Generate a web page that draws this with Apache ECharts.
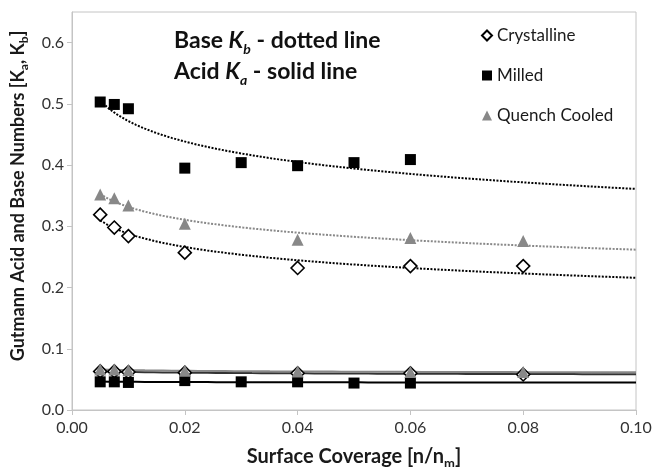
<!DOCTYPE html>
<html>
<head>
<meta charset="utf-8">
<script src="https://cdn.jsdelivr.net/npm/echarts@6/dist/echarts.min.js"></script>
<style>
  html, body { margin: 0; padding: 0; background: #fff; }
  #chart { width: 654px; height: 467px; }
</style>
</head>
<body>
<div id="chart"></div>
<script>
// surface coverage values (n/nm)
const xMilled = [0.005, 0.0075, 0.01, 0.02, 0.03, 0.04, 0.05, 0.06];
const xOther = [0.005, 0.0075, 0.01, 0.02, 0.04, 0.06, 0.08];

// base numbers Kb
const baseCrystalline = [0.319, 0.298, 0.284, 0.257, 0.232, 0.235, 0.235];
const baseMilled = [0.503, 0.499, 0.492, 0.395, 0.404, 0.399, 0.404, 0.409];
const baseQuench = [0.352, 0.346, 0.334, 0.304, 0.278, 0.281, 0.276];

// acid numbers Ka
const acidCrystalline = [0.063, 0.063, 0.062, 0.061, 0.060, 0.060, 0.058];
const acidMilled = [0.046, 0.046, 0.045, 0.048, 0.046, 0.046, 0.044, 0.044];
const acidQuench = [0.066, 0.066, 0.065, 0.064, 0.063, 0.062, 0.062];

const legendNames = ['Crystalline', 'Milled', 'Quench Cooled'];

const BLACK = '#000000';
const GREY = '#888888';
const FONT = 'Lato';

// least squares logarithmic trendline, y = a + b ln(x)
function logFit(xs, ys) {
  const lx = xs.map((x) => Math.log(x));
  const n = xs.length;
  const mx = lx.reduce((s, v) => s + v, 0) / n;
  const my = ys.reduce((s, v) => s + v, 0) / n;
  let sxy = 0;
  let sxx = 0;
  for (let i = 0; i < n; i++) {
    sxy += (lx[i] - mx) * (ys[i] - my);
    sxx += (lx[i] - mx) * (lx[i] - mx);
  }
  const b = sxy / sxx;
  const a = my - b * mx;
  const pts = [];
  const x0 = xs[0];
  const steps = 60;
  for (let i = 0; i <= steps; i++) {
    const x = x0 + ((0.1 - x0) * i) / steps;
    pts.push([x, a + b * Math.log(x)]);
  }
  return pts;
}

function pairs(xs, ys) {
  return xs.map((x, i) => [x, ys[i]]);
}

function scatter(name, xs, ys, symbol, size, style) {
  return {
    name,
    type: 'scatter',
    symbol,
    symbolSize: size,
    data: pairs(xs, ys),
    itemStyle: { opacity: 1, ...style },
    z: 5,
  };
}

function trend(name, xs, ys, color, dotted) {
  return {
    name,
    type: 'line',
    showSymbol: false,
    symbol: 'none',
    silent: true,
    data: logFit(xs, ys),
    lineStyle: {
      color,
      width: 2,
      type: dotted ? [2, 1.5] : 'solid',
    },
    z: 3,
  };
}

const diamondStyle = { color: '#fff', borderColor: BLACK, borderWidth: 1.6 };
const squareStyle = { color: BLACK };
const triStyle = { color: GREY };

const subRich = (size, key) => ({
  b: { fontFamily: FONT, fontSize: size, fontWeight: 'bold', [key]: '#1a1a1a', lineHeight: size + 6 },
  s: { fontFamily: FONT, fontSize: Math.round(size * 0.65), fontWeight: 'bold', [key]: '#1a1a1a', verticalAlign: 'bottom', lineHeight: size - 2 },
});

const chart = echarts.init(document.getElementById('chart'));

chart.setOption({
  animation: false,
  textStyle: { fontFamily: FONT },
  grid: {
    left: 72,
    right: 18,
    top: 12,
    bottom: 57,
    outerBoundsMode: 'none',
    show: true,
    borderColor: '#c4c4c4',
    borderWidth: 1,
  },
  legend: {
    data: legendNames,
    orient: 'vertical',
    left: 476,
    top: 22,
    itemGap: 23,
    itemWidth: 10,
    itemHeight: 10,
    textStyle: { fontFamily: FONT, fontSize: 17, color: '#1a1a1a' },
  },
  xAxis: {
    type: 'value',
    min: 0,
    max: 0.1,
    interval: 0.02,
    name: '{b|Surface Coverage [n/n}{s|m}{b|]}',
    nameLocation: 'middle',
    nameGap: 34,
    nameTextStyle: { rich: subRich(20, 'color') },
    axisLine: { lineStyle: { color: '#c4c4c4' } },
    axisTick: { show: true, length: 5, lineStyle: { color: '#c4c4c4' } },
    axisLabel: {
      fontSize: 16,
      color: '#333',
      margin: 10,
      formatter: (v) => v.toFixed(2),
    },
    splitLine: { show: false },
  },
  yAxis: {
    type: 'value',
    min: 0,
    max: 0.65,
    interval: 0.1,
    axisLine: { show: true, lineStyle: { color: '#c4c4c4' } },
    axisTick: { show: true, length: 5, lineStyle: { color: '#c4c4c4' } },
    axisLabel: {
      fontSize: 16,
      color: '#333',
      margin: 8,
      showMaxLabel: false,
      formatter: (v) => (Math.abs(v * 10 - Math.round(v * 10)) < 1e-6 ? v.toFixed(1) : ''),
    },
    splitLine: { show: false },
  },
  graphic: [
    {
      // y axis title sits a little above the axis centre in the original
      type: 'text',
      x: 18,
      y: 196,
      rotation: Math.PI / 2,
      style: {
        text: '{b|Gutmann Acid and Base Numbers [K}{s|a}{b|, K}{s|b}{b|]}',
        align: 'center',
        verticalAlign: 'middle',
        rich: subRich(18, 'fill'),
      },
    },
    {
      type: 'text',
      left: 174,
      top: 29,
      style: {
        text: '{n|Base }{k|K}{s|b}{n| - dotted line}\n{n|Acid }{k|K}{s|a}{n| - solid line}',
        rich: {
          n: { fontFamily: FONT, fontSize: 23, fontWeight: 'bold', fill: '#111', lineHeight: 31 },
          k: { fontFamily: FONT, fontSize: 23, fontWeight: 'bold', fontStyle: 'italic', fill: '#111', lineHeight: 31 },
          s: { fontFamily: FONT, fontSize: 14, fontWeight: 'bold', fontStyle: 'italic', fill: '#111', verticalAlign: 'bottom', lineHeight: 18 },
        },
      },
    },
  ],
  series: [
    trend('Crystalline base trend', xOther, baseCrystalline, BLACK, true),
    trend('Milled base trend', xMilled, baseMilled, BLACK, true),
    trend('Quench base trend', xOther, baseQuench, GREY, true),
    trend('Crystalline acid trend', xOther, acidCrystalline, '#333', false),
    trend('Milled acid trend', xMilled, acidMilled, BLACK, false),
    trend('Quench acid trend', xOther, acidQuench, GREY, false),
    scatter('Crystalline', xOther, baseCrystalline, 'diamond', 13, diamondStyle),
    scatter('Milled', xMilled, baseMilled, 'rect', 11, squareStyle),
    scatter('Quench Cooled', xOther, baseQuench, 'triangle', 12, triStyle),
    scatter('Crystalline', xOther, acidCrystalline, 'diamond', 13, diamondStyle),
    scatter('Milled', xMilled, acidMilled, 'rect', 11, squareStyle),
    scatter('Quench Cooled', xOther, acidQuench, 'triangle', 12, triStyle),
  ],
});
</script>
</body>
</html>
